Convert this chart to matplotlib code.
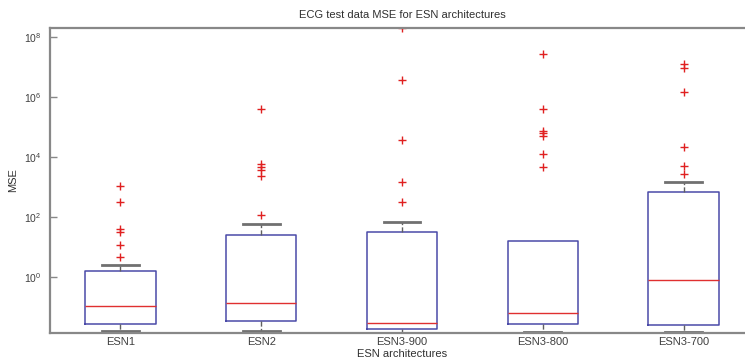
import matplotlib
matplotlib.use("Agg")
import matplotlib.pyplot as plt
from matplotlib.ticker import FixedLocator, LogFormatterSciNotation, NullLocator

# box statistics (MSE values)
names = ["ESN1", "ESN2", "ESN3-900", "ESN3-800", "ESN3-700"]
q1 = [0.026, 0.032, 0.0186, 0.026, 0.0245]
med = [0.107, 0.13, 0.028, 0.063, 0.76]
q3 = [1.55, 25.0, 30.0, 15.5, 676.0]
whislo = [0.0155, 0.0155, 0.0126, 0.014, 0.014]
whishi = [2.4, 59.0, 68.0, 15.5, 1410.0]
fliers = [
    [1050, 300, 38, 30, 11.5, 4.6],
    [4.0e5, 5750, 4470, 3550, 2340, 112],
    [2.0e8, 3.5e6, 3.6e4, 1480, 300],
    [2.6e7, 3.8e5, 7.2e4, 6.0e4, 5.1e4, 1.23e4, 4470],
    [1.2e7, 8.9e6, 1.45e6, 2.1e4, 5000, 2630],
]
yticks = [1, 1e2, 1e4, 1e6, 1e8]

stats = []
for i in range(len(names)):
    stats.append(dict(label=names[i], q1=q1[i], med=med[i], q3=q3[i],
                      whislo=whislo[i], whishi=whishi[i], fliers=fliers[i]))

plt.rcParams['font.family'] = ['Liberation Sans', 'DejaVu Sans']
plt.rcParams['mathtext.fontset'] = 'custom'
plt.rcParams['mathtext.rm'] = 'Liberation Sans'

fig = plt.figure(figsize=(7.45, 3.62), dpi=100)
ax = fig.add_axes([50/745, 1-333/362, 704/745, (333-27.5)/362])

bp = ax.bxp(stats, positions=range(1, 6), widths=0.5,
            boxprops=dict(color='#4a4aa8', linewidth=1.1),
            medianprops=dict(color='#e03030', linewidth=1.0),
            whiskerprops=dict(color='#606060', linewidth=1.0, linestyle='--'),
            capprops=dict(color='#707070', linewidth=2.0),
            capwidths=0.26,
            flierprops=dict(marker='+', markeredgecolor='#e02020', markersize=6,
                            markeredgewidth=1.0, linestyle='none'))
# ESN3-800: upper whisker ends at the box, no cap shown
for i in range(len(names)):
    if whishi[i] <= q3[i]:
        bp['caps'][2*i+1].set_visible(False)

ax.set_yscale('log')
ax.set_ylim(10**-1.88, 10**8.31)
ax.set_xlim(0.5, 5.5)
ax.yaxis.set_major_locator(FixedLocator(yticks))
ax.yaxis.set_major_formatter(LogFormatterSciNotation(base=10))
ax.yaxis.set_minor_locator(NullLocator())

for s in ax.spines.values():
    s.set_color('#888888')
    s.set_linewidth(1.6)
ax.tick_params(axis='y', direction='in', length=5, width=1, colors='#888888',
               labelcolor='#404040', labelsize=7.5, pad=6)
ax.tick_params(axis='x', length=0, labelcolor='#404040', labelsize=8, pad=3)

ax.set_title("ECG test data MSE for ESN architectures", fontsize=8,
             color='#303030', pad=7)
ax.set_xlabel("ESN architectures", fontsize=8, color='#303030', labelpad=1)
ax.set_ylabel("MSE", fontsize=8, color='#303030', labelpad=4)

fig.savefig("out.png", dpi=100)
